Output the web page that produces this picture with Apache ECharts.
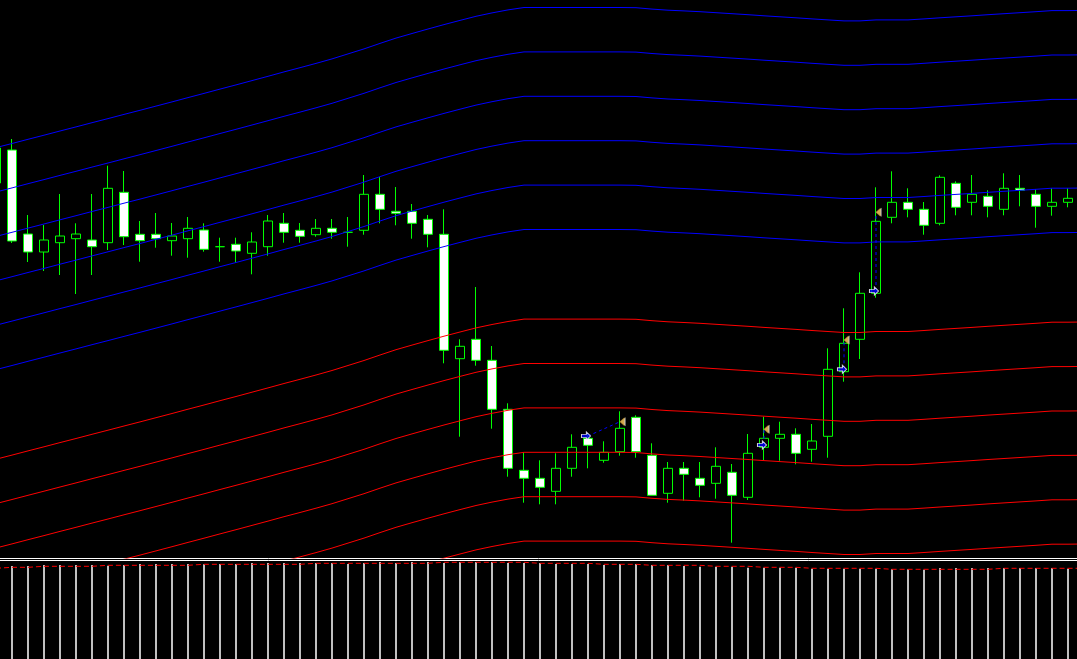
<!DOCTYPE html>
<html>
<head>
<meta charset="utf-8">
<script src="https://cdn.jsdelivr.net/npm/echarts@6/dist/echarts.min.js"></script>
<style>
html,body{margin:0;padding:0;background:#000;overflow:hidden;}
#chart{width:1077px;height:659px;}
</style>
</head>
<body>
<div id="chart"></div>
<script>
// ---- bar times (H1) ----
const barTimes = [
'05 00:00','05 01:00','05 02:00','05 03:00','05 04:00','05 05:00','05 06:00','05 07:00','05 08:00','05 09:00','05 10:00','05 11:00',
'05 12:00','05 13:00','05 14:00','05 15:00','05 16:00','05 17:00','05 18:00','05 19:00','05 20:00','05 21:00','05 22:00','05 23:00',
'06 00:00','06 01:00','06 02:00','06 03:00','06 04:00','06 05:00','06 06:00','06 07:00','06 08:00','06 09:00','06 10:00','06 11:00',
'06 12:00','06 13:00','06 14:00','06 15:00','06 16:00','06 17:00','06 18:00','06 19:00','06 20:00','06 21:00','06 22:00','06 23:00',
'07 00:00','07 01:00','07 02:00','07 03:00','07 04:00','07 05:00','07 06:00','07 07:00','07 08:00','07 09:00','07 10:00','07 11:00',
'07 12:00','07 13:00','07 14:00','07 15:00','07 16:00','07 17:00','07 18:00','07 19:00','07 20:00'
];

// ---- OHLC ----
const openPrices = [1375,1408,1324,1306,1315.3,1319.3,1318,1315.3,1365.7,1323.7,1323.7,1317.3,1319.3,1328,1311.3,1313.7,1304.7,1311.3,1334.7,1327.7,1323.3,1329.7,1325.7,1327.7,1363.7,1346.7,1346.7,1338.7,1323.7,1199.3,1218.7,1197.7,1148.7,1087.7,1079.7,1066.7,1089.7,1119.7,1097.7,1106.3,1140.7,1102.7,1064.7,1089.7,1079.7,1074.7,1085.7,1060.7,1110.7,1119.7,1123.7,1108.7,1121.7,1186.3,1218.7,1264.7,1340.7,1355.7,1348.7,1334.7,1374.7,1355.7,1361.7,1348.7,1369.7,1363.7,1351.7,1355.7,null];
const closePrices = [1410,1317,1306,1318,1322,1324,1311.3,1369.7,1321.3,1317.3,1319.3,1322,1329.7,1308.7,1311.3,1307,1316,1337,1325.7,1321.7,1329.7,1325.7,1325.7,1363.7,1348.7,1344.7,1334.7,1323.7,1207.7,1211.7,1197.7,1148.7,1089.7,1079.7,1070.7,1089.7,1110.7,1112.7,1105.7,1129.7,1106.3,1062.7,1089.7,1083.7,1072.7,1091.7,1062.7,1104.7,1119.7,1123.7,1104.7,1117,1188.7,1214.7,1264.7,1336.7,1355.7,1348.7,1332.7,1380.7,1350.7,1363.7,1351.7,1369.7,1367.7,1351.7,1355.7,1359.7,null];
const lowPrices = [1368,1315,1296,1287,1283,1264,1283,1308,1313,1296.3,1310.3,1302.3,1300.3,1306.3,1296.3,1295.3,1283.7,1302.3,1315.3,1315.3,1321.3,1319.3,1311.3,1323.3,1334.7,1332.7,1319.3,1310.7,1194.7,1121.3,1192.3,1129.3,1081.3,1055.3,1053.7,1053.7,1081.3,1089.7,1095.3,1102.3,1100.3,1062.7,1055.3,1057.3,1060.7,1059.3,1015.3,1058,1098,1097.3,1093.7,1096.3,1100.3,1176.3,1199,1260.3,1334.7,1340.7,1323.3,1332.7,1342.7,1342.7,1340.7,1342.7,1351.7,1330.3,1342.3,1350.7,null];
const highPrices = [1418,1419,1343,1333,1364,1334.7,1364,1392.3,1387,1337,1345,1335,1341,1334.7,1320.3,1320.3,1325.7,1343,1345,1335,1339,1339,1341,1383,1381,1371,1354,1343,1348.7,1218.7,1271,1212,1154.7,1105.7,1097.7,1104.7,1123.7,1124,1116.7,1146.7,1142.7,1114.7,1096,1096,1096,1110.7,1094,1124,1141.3,1136.3,1129.7,1134,1209.7,1249.7,1285.7,1370.7,1386.7,1369.7,1356,1382.7,1376.7,1383,1367.7,1384.7,1383,1368.7,1369.7,1369.7,null];

// ---- envelope channel: centre line and band distances ----
const centerLine = [1143.6,1147.7,1151.9,1156.0,1160.2,1164.3,1168.5,1172.6,1176.8,1180.9,1185.1,1189.3,1193.6,1197.8,1202.1,1206.3,1210.6,1214.9,1219.3,1223.5,1227.8,1232.3,1237.3,1242.3,1247.8,1253.1,1257.7,1262.2,1266.6,1270.8,1274.9,1278.3,1281.3,1283.7,1283.7,1283.7,1283.7,1283.7,1283.7,1283.7,1283.5,1282.1,1281.0,1280.3,1279.5,1278.5,1277.5,1276.5,1275.4,1274.4,1273.4,1272.3,1271.3,1270.3,1270.3,1271.3,1271.3,1271.3,1272.3,1273.4,1274.4,1275.4,1276.5,1277.5,1278.5,1279.5,1280.6,1280.6,1280.8];
const bandOffsets = [44.8, 89.2, 133.6, 178.0, 222.4, 266.8];

// ---- volume and its moving average ----
const volumes = [4650,4650,4650,4700,4700,4700,4700,4665,4700,4750,4750,4750,4750,4735,4750,4750,4800,4800,4800,4800,4800,4800,4750,4800,4850,4800,4850,4850,4800,4850,4850,4850,4800,4800,4800,4750,4750,4750,4700,4750,4750,4700,4700,4650,4615,4615,4615,4565,4565,4565,4565,4515,4515,4515,4515,4515,4485,4485,4465,4550,4550,4550,4550,4550,4550,4550,4550,4515,null];
const volumeMA = [4535,4585,4585,4635,4635,4635,4635,4685,4685,4685,4685,4685,4685,4735,4735,4735,4735,4735,4735,4735,4785,4785,4785,4785,4785,4785,4785,4785,4835,4835,4835,4835,4835,4835,4785,4785,4785,4785,4735,4735,4735,4685,4685,4685,4685,4635,4635,4635,4585,4585,4585,4535,4535,4535,4535,4535,4485,4485,4485,4485,4485,4485,4485,4535,4535,4535,4535,4535,4535];

// ---- trade history (bar index, price) ----
const tradeOpenBar = [37, 48, 53, 55];
const tradeOpenPrice = [1122, 1113, 1188.7, 1267];
const tradeCloseBar = [39, 48, 53, 55];
const tradeClosePrice = [1136.3, 1128.7, 1218, 1345.7];

// ---------------------------------------------------------------
const candleData = openPrices.map((o, i) =>
  o == null ? '-' : [o, closePrices[i], lowPrices[i], highPrices[i]]);

const BAR_PX = 16;
const gridLeft = -12;
const gridWidth = BAR_PX * barTimes.length;

const series = [];

series.push({
  type: 'candlestick', xAxisIndex: 0, yAxisIndex: 0, z: 2,
  data: candleData, barWidth: 9, silent: true,
  itemStyle: {
    color: '#000000', color0: '#ffffff',
    borderColor: '#00ff00', borderColor0: '#00ff00', borderColorDoji: '#00ff00',
    borderWidth: 1
  }
});

bandOffsets.forEach(off => {
  series.push({
    type: 'line', xAxisIndex: 0, yAxisIndex: 0, z: 3, silent: true,
    symbol: 'none', data: centerLine.map(c => +(c + off).toFixed(2)),
    lineStyle: { color: '#0000ff', width: 1 }
  });
  series.push({
    type: 'line', xAxisIndex: 0, yAxisIndex: 0, z: 3, silent: true,
    symbol: 'none', data: centerLine.map(c => +(c - off).toFixed(2)),
    lineStyle: { color: '#ff0000', width: 1 }
  });
});

tradeOpenBar.forEach((b, i) => {
  series.push({
    type: 'line', xAxisIndex: 0, yAxisIndex: 0, z: 4, silent: true,
    symbol: 'none',
    data: [[b, tradeOpenPrice[i]], [tradeCloseBar[i], tradeClosePrice[i]]],
    lineStyle: { color: '#0000ff', width: 1, type: [3, 3] }
  });
});

series.push({
  type: 'scatter', xAxisIndex: 0, yAxisIndex: 0, z: 5, silent: true,
  data: tradeCloseBar.map((b, i) => [b, tradeClosePrice[i]]),
  symbol: 'path://M10,0 L10,10 L0,5 Z', symbolSize: [5, 9], symbolOffset: [3, 0],
  itemStyle: { color: '#ffffff' }
});
series.push({
  type: 'scatter', xAxisIndex: 0, yAxisIndex: 0, z: 6, silent: true,
  data: tradeCloseBar.map((b, i) => [b, tradeClosePrice[i]]),
  symbol: 'path://M10,0 L10,10 L0,5 Z', symbolSize: [5, 9], symbolOffset: [2, 0],
  itemStyle: { color: '#d4a030' }
});
series.push({
  type: 'scatter', xAxisIndex: 0, yAxisIndex: 0, z: 6, silent: true,
  data: tradeOpenBar.map((b, i) => [b, tradeOpenPrice[i]]),
  symbol: 'path://M0,3 L6,3 L6,0 L11,5 L6,10 L6,7 L0,7 Z', symbolSize: [9, 8],
  symbolOffset: [-2, 0],
  itemStyle: { color: '#0000ff', borderColor: '#ffffff', borderWidth: 1 }
});

series.push({
  type: 'bar', xAxisIndex: 1, yAxisIndex: 1, z: 2, silent: true,
  data: volumes, barWidth: 2,
  itemStyle: { color: '#c0c0c0' }
});
series.push({
  type: 'line', xAxisIndex: 1, yAxisIndex: 1, z: 3, silent: true,
  symbol: 'none', data: volumeMA,
  lineStyle: { color: '#ff0000', width: 1, type: [5, 3] }
});

const chart = echarts.init(document.getElementById('chart'), null, { renderer: 'canvas' });
chart.setOption({
  backgroundColor: '#000000',
  animation: false,
  grid: [
    { left: gridLeft, width: gridWidth, top: 0, height: 558, containLabel: false, outerBoundsMode: 'none' },
    { left: gridLeft, width: gridWidth, top: 560, height: 99, containLabel: false, outerBoundsMode: 'none' }
  ],
  xAxis: [
    { type: 'category', gridIndex: 0, data: barTimes, boundaryGap: true,
      axisLine: { show: true, lineStyle: { color: '#ffffff', width: 1 } },
      axisTick: { show: false }, axisLabel: { show: false }, splitLine: { show: false } },
    { type: 'category', gridIndex: 1, data: barTimes, boundaryGap: true, position: 'top',
      axisLine: { show: true, onZero: false, lineStyle: { color: '#ffffff', width: 1 } },
      axisTick: { show: false }, axisLabel: { show: false }, splitLine: { show: false } }
  ],
  yAxis: [
    { type: 'value', gridIndex: 0, min: 1000, max: 1558, show: false, splitLine: { show: false } },
    { type: 'value', gridIndex: 1, min: 0, max: 4950, show: false, splitLine: { show: false } }
  ],
  series: series
});
</script>
</body>
</html>
